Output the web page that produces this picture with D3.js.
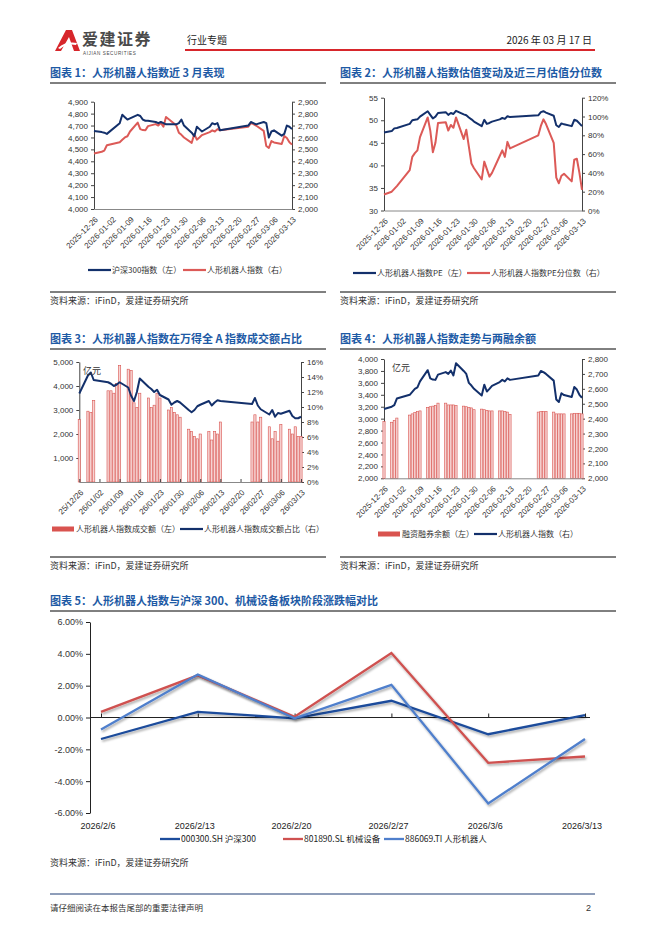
<!DOCTYPE html>
<html>
<head>
<meta charset="utf-8">
<script src="https://cdn.jsdelivr.net/npm/d3@7"></script>
<style>
body { margin: 0; background: #fff; }
svg { display: block; font-family: "Noto Sans CJK SC", "Noto Sans", sans-serif; }
.ttl { font-size: 11px; font-weight: bold; fill: #1d5aa5; }
.src { font-size: 9px; fill: #333; }
.leg { font-size: 8px; fill: #333; }
.num { font-family: "Liberation Sans", "DejaVu Sans", sans-serif; }
</style>
</head>
<body>
<svg id="page" width="662" height="936"></svg>
<script>
// trading days shown in charts 1-4
const dates = [
  "2025-12-26","2025-12-29","2025-12-30","2025-12-31",
  "2026-01-05","2026-01-06","2026-01-07","2026-01-08","2026-01-09",
  "2026-01-12","2026-01-13","2026-01-14","2026-01-15","2026-01-16",
  "2026-01-19","2026-01-20","2026-01-21","2026-01-22","2026-01-23",
  "2026-01-26","2026-01-27","2026-01-28","2026-01-29","2026-01-30",
  "2026-02-02","2026-02-03","2026-02-04","2026-02-05","2026-02-06",
  "2026-02-09","2026-02-10","2026-02-11","2026-02-12","2026-02-13",
  "2026-02-24","2026-02-25","2026-02-26","2026-02-27",
  "2026-03-02","2026-03-03","2026-03-04","2026-03-05","2026-03-06",
  "2026-03-09","2026-03-10","2026-03-11","2026-03-12","2026-03-13"
];
const weekTicks = ["2025-12-26","2026-01-02","2026-01-09","2026-01-16","2026-01-23","2026-01-30",
  "2026-02-06","2026-02-13","2026-02-20","2026-02-27","2026-03-06","2026-03-13"];

// 沪深300指数
const hs300 = [4655,4645,4640,4630, 4720,4790,4770,4750,4760, 4790,4780,4750,4740,4740,
  4730,4720,4730,4720,4710, 4710,4710,4720,4750,4700, 4640,4610,4690,4670,4650,
  4690,4720,4710,4720,4660, 4700,4730,4720,4710, 4730,4720,4600,4650,4660,
  4615,4630,4700,4690,4670];
// 人形机器人指数
const robotIdx = [2465,2480,2490,2535, 2560,2580,2600,2610,2650, 2725,2670,2662,2660,2695,
  2712,2700,2722,2690,2772, 2720,2700,2640,2622,2600, 2555,2628,2582,2600,2620,
  2645,2660,2650,2670,2660, 2690,2720,2712,2700, 2655,2528,2512,2570,2558,
  2545,2612,2595,2560,2540];
// 人形机器人指数PE
const robotPE = [47.3,47.6,48.2,48.3, 49.2,50.0,50.1,50.2,50.8, 52.0,51.2,50.4,50.8,51.6,
  51.8,51.2,51.6,51.4,52.1, 51.3,51.1,50.6,50.2,49.7, 48.7,50.1,49.2,49.4,49.7,
  50.2,50.5,50.3,50.9,50.7, 51.1,51.8,52.0,51.7, 51.0,48.9,48.5,49.3,49.1,
  48.7,50.1,49.9,49.3,48.7];
// PE分位数 (%)
const pePct = [17,20,23,26, 43,57,61,64,78, 99,85,62,72,93,
  94,85,91,88,99, 76,86,68,50,45, 33,52,44,36,40,
  58,64,57,73,66, 80,90,97,92, 72,35,29,37,39,
  31,54,55,40,22];
// 成交额 (亿元)
const turnover = [2600,2950,2900,3400, 3800,3800,3700,4100,4850, 4700,4650,3300,3100,3700,
  3500,3100,3200,3700,3500, 3000,3100,2900,2800,2700, 2200,2100,1900,1800,2000,
  2100,1750,2100,2000,2500, 2500,2800,2500,2700, 2300,1800,2100,1700,2400,
  2200,2000,2300,1900,1900];
// 成交额占比 (%)
const turnoverShare = [11.8,14.2,14.6,13.6, 13.3,13.1,12.8,13.0,13.3, 12.6,11.5,10.8,12.0,13.8,
  12.7,12.4,12.0,12.3,11.6, 11.0,10.3,10.6,10.8,10.6, 9.6,9.3,9.6,10.1,10.3,
  10.8,10.2,10.6,10.9,10.8, 10.4,11.2,10.2,9.7, 9.0,9.6,8.7,9.2,9.1,
  9.5,8.8,8.5,8.5,8.7];
// 融资融券余额 (亿元)
const marginBal = [2950,2940,2970,3010, 3060,3080,3100,3120,3130, 3190,3200,3210,3220,3260,
  3260,3230,3230,3230,3220, 3210,3200,3190,3180,3150, 3160,3150,3140,3130,3130,
  3130,3130,3120,3110,3070, 3110,3120,3120,3120, 3110,3080,3080,3080,3080,
  3080,3090,3090,3090,3080];

// 图表5 周度涨跌幅 (%)
const weekLabels = ["2026/2/6","2026/2/13","2026/2/20","2026/2/27","2026/3/6","2026/3/13"];
const wkHs300 = [-1.35, 0.35, -0.05, 1.05, -1.05, 0.15];
const wkMach = [0.35, 2.65, 0.05, 4.05, -2.85, -2.45];
const wkRobot = [-0.75, 2.70, -0.05, 2.05, -5.40, -1.35];

const NAVY = "#13306b", RED = "#dc5a57";
const svg = d3.select("#page");
const parse = d3.timeParse("%Y-%m-%d");
const dts = dates.map(parse);
const wks = weekTicks.map(parse);

// ---------- header ----------
svg.append("path").attr("d", "M55,51 L66,30 L72,30 L80,51 L74,51 L69,37 L61,51 Z").attr("fill", "#d7262b");
svg.append("path").attr("d", "M58,48 Q66,41 77,43 L76,45 Q67,43 60,49 Z").attr("fill", "#fff");
svg.append("text").attr("x", 82).attr("y", 45).attr("font-size", 16).attr("font-weight", "bold")
  .attr("letter-spacing", 1.5).attr("fill", "#4a4a4a").text("爱建证券");
svg.append("text").attr("x", 83).attr("y", 54.5).attr("font-size", 4.6).attr("fill", "#4a4a4a")
  .attr("letter-spacing", 0.6).attr("class", "num").text("AIJIAN SECURITIES");
svg.append("text").attr("x", 187).attr("y", 44).attr("font-size", 10).attr("fill", "#222").text("行业专题");
svg.append("text").attr("x", 592).attr("y", 44).attr("font-size", 10).attr("fill", "#222")
  .attr("text-anchor", "end").text("2026 年 03 月 17 日");
svg.append("line").attr("x1", 185).attr("x2", 595).attr("y1", 50).attr("y2", 50)
  .attr("stroke", "#d7262b").attr("stroke-width", 2);

// ---------- helpers ----------
function title(x, y, x2, text) {
  svg.append("text").attr("class", "ttl").attr("x", x).attr("y", y).text(text);
  svg.append("line").attr("x1", x).attr("x2", x2).attr("y1", y + 6).attr("y2", y + 6)
    .attr("stroke", "#000").attr("stroke-width", 1);
}
function source(x, y, x2, withLine) {
  if (withLine) svg.append("line").attr("x1", x).attr("x2", x2).attr("y1", y - 12).attr("y2", y - 12)
    .attr("stroke", "#000").attr("stroke-width", 1);
  svg.append("text").attr("class", "src").attr("x", x).attr("y", y).text("资料来源：iFinD，爱建证券研究所");
}
function styleAxis(g, fs) {
  g.select(".domain").attr("stroke", "#444");
  g.selectAll(".tick line").attr("stroke", "#444");
  g.selectAll(".tick text").attr("fill", "#333").attr("font-size", fs || 8).attr("class", "num");
}
function yAxes(p, yL, yR, lTicks, rTicks, lFmt, rFmt) {
  const gl = svg.append("g").attr("transform", `translate(${p.x0},0)`)
    .call(d3.axisLeft(yL).tickValues(lTicks).tickFormat(lFmt).tickSize(3).tickSizeOuter(0));
  styleAxis(gl);
  const gr = svg.append("g").attr("transform", `translate(${p.x1},0)`)
    .call(d3.axisRight(yR).tickValues(rTicks).tickFormat(rFmt).tickSize(3).tickSizeOuter(0));
  styleAxis(gr);
}
function dateAxis(x, p, fmt, tick) {
  const g = svg.append("g").attr("transform", `translate(0,${p.y1})`)
    .call(d3.axisBottom(x).tickValues(wks).tickFormat(d3.timeFormat(fmt)).tickSize(tick).tickSizeOuter(0));
  styleAxis(g);
  g.select(".domain").attr("stroke", "#888");
  g.selectAll(".tick text").attr("y", 0).attr("dy", 0).attr("text-anchor", "end")
    .attr("transform", "translate(4,11) rotate(-45)");
}
function legLine(x, y, color, text) {
  svg.append("line").attr("x1", x).attr("x2", x + 23).attr("y1", y).attr("y2", y)
    .attr("stroke", color).attr("stroke-width", 2.2);
  svg.append("text").attr("class", "leg").attr("x", x + 24).attr("y", y + 3).text(text);
}
function legRect(x, y, color, text) {
  svg.append("rect").attr("x", x).attr("y", y - 2.5).attr("width", 22).attr("height", 5).attr("fill", color);
  svg.append("text").attr("class", "leg").attr("x", x + 24).attr("y", y + 3).text(text);
}
function drawLine(x, y, vals, color, w) {
  svg.append("path").datum(vals)
    .attr("d", d3.line().x((d, i) => x(dts[i])).y(d => y(d)))
    .attr("fill", "none").attr("stroke", color).attr("stroke-width", w || 2).attr("stroke-linejoin", "round");
}
function drawBars(x, y, vals, p) {
  svg.append("g").selectAll("rect").data(vals).join("rect")
    .attr("x", (d, i) => x(dts[i]) - 1.1).attr("width", 2.2)
    .attr("y", d => y(d)).attr("height", d => p.y1 - y(d))
    .attr("fill", "#f6d4d3").attr("stroke", "#d9534f").attr("stroke-width", 0.6);
}
const fmtC = d3.format(",");

// ---------- 图表1 ----------
title(50, 77, 326, "图表 1：人形机器人指数近 3 月表现");
{
  const p = { x0: 94, x1: 292, y0: 101.7, y1: 209 };
  const x = d3.scaleTime().domain([dts[0], dts[dts.length - 1]]).range([p.x0, p.x1]);
  const yL = d3.scaleLinear().domain([4000, 4900]).range([p.y1, p.y0]);
  const yR = d3.scaleLinear().domain([2000, 2900]).range([p.y1, p.y0]);
  yAxes(p, yL, yR, d3.range(4000, 4901, 100), d3.range(2000, 2901, 100), fmtC, fmtC);
  dateAxis(x, p, "%Y-%m-%d", 0);
  drawLine(x, yR, robotIdx, RED);
  drawLine(x, yL, hs300, NAVY);
  legLine(88, 270, NAVY, "沪深300指数（左）");
  legLine(183, 270, RED, "人形机器人指数（右）");
}
source(50, 304, 326, true);

// ---------- 图表2 ----------
title(340, 77, 616, "图表 2：人形机器人指数估值变动及近三月估值分位数");
{
  const p = { x0: 384, x1: 582, y0: 97.7, y1: 210.5 };
  const x = d3.scaleTime().domain([dts[0], dts[dts.length - 1]]).range([p.x0, p.x1]);
  const yL = d3.scaleLinear().domain([30, 55]).range([p.y1, p.y0]);
  const yR = d3.scaleLinear().domain([0, 120]).range([p.y1, p.y0]);
  yAxes(p, yL, yR, d3.range(30, 56, 5), d3.range(0, 121, 20), d3.format("d"), d => d + "%");
  dateAxis(x, p, "%Y-%m-%d", 0);
  drawLine(x, yL, robotPE, NAVY);
  drawLine(x, yR, pePct, RED);
  legLine(353, 273, NAVY, "人形机器人指数PE（左）");
  legLine(467, 273, RED, "人形机器人指数PE分位数（右）");
}
source(340, 304, 616, true);

// ---------- 图表3 ----------
title(50, 343, 326, "图表 3：人形机器人指数在万得全 A 指数成交额占比");
{
  const p = { x0: 79.3, x1: 301, y0: 362, y1: 482 };
  const x = d3.scaleTime().domain([dts[0], dts[dts.length - 1]]).range([p.x0, p.x1]);
  const yL = d3.scaleLinear().domain([0, 5000]).range([p.y1, p.y0]);
  const yR = d3.scaleLinear().domain([0, 16]).range([p.y1, p.y0]);
  yAxes(p, yL, yR, d3.range(1000, 5001, 1000), d3.range(0, 17, 2), fmtC, d => d + "%");
  drawBars(x, yL, turnover, p);
  dateAxis(x, p, "%y/%m/%d", -3);
  drawLine(x, yR, turnoverShare, NAVY);
  svg.append("text").attr("x", 83).attr("y", 374).attr("font-size", 9).attr("fill", "#333").text("亿元");
  legRect(52, 529, "#d9534f", "人形机器人指数成交额（左）");
  legLine(180, 529, NAVY, "人形机器人指数成交额占比（右）");
}
source(50, 569, 326, true);

// ---------- 图表4 ----------
title(340, 343, 616, "图表 4：人形机器人指数走势与两融余额");
{
  const p = { x0: 384, x1: 582, y0: 359, y1: 478.3 };
  const x = d3.scaleTime().domain([dts[0], dts[dts.length - 1]]).range([p.x0, p.x1]);
  const yL = d3.scaleLinear().domain([2000, 4000]).range([p.y1, p.y0]);
  const yR = d3.scaleLinear().domain([2000, 2800]).range([p.y1, p.y0]);
  yAxes(p, yL, yR, d3.range(2000, 4001, 200), d3.range(2000, 2801, 100), fmtC, fmtC);
  drawBars(x, yL, marginBal, p);
  dateAxis(x, p, "%Y-%m-%d", 0);
  drawLine(x, yR, robotIdx, NAVY);
  svg.append("text").attr("x", 392).attr("y", 371).attr("font-size", 9).attr("fill", "#333").text("亿元");
  legRect(378, 534, "#d9534f", "融资融券余额（左）");
  legLine(474, 534, NAVY, "人形机器人指数（右）");
}
source(340, 569, 616, true);

// ---------- 图表5 ----------
title(50, 605, 616, "图表 5：人形机器人指数与沪深 300、机械设备板块阶段涨跌幅对比");
{
  const x = d3.scalePoint().domain(weekLabels).range([101, 585]);
  const y = d3.scaleLinear().domain([-6, 6]).range([813, 622]);
  const defs = svg.append("defs");
  defs.append("filter").attr("id", "shd").attr("x", "-10%").attr("y", "-10%").attr("width", "120%").attr("height", "130%")
    .append("feDropShadow").attr("dx", 1.2).attr("dy", 1.8).attr("stdDeviation", 1)
    .attr("flood-color", "#000").attr("flood-opacity", 0.35);
  const gy = svg.append("g").attr("transform", "translate(90,0)")
    .call(d3.axisLeft(y).tickValues(d3.range(-6, 7, 2)).tickFormat(d => d.toFixed(2) + "%").tickSize(4).tickSizeOuter(0));
  styleAxis(gy, 9);
  gy.select(".domain").attr("stroke", "#222");
  gy.selectAll(".tick line").attr("stroke", "#222");
  const gx = svg.append("g").attr("transform", `translate(0,${y(0)})`)
    .call(d3.axisTop(x).tickSize(4).tickSizeOuter(0).tickFormat(""));
  gx.select(".domain").attr("d", `M90,0H590`).attr("stroke", "#222");
  gx.selectAll(".tick line").attr("stroke", "#222");
  svg.append("g").selectAll("text").data(weekLabels).join("text")
    .attr("class", "num").attr("x", d => x(d) - 3).attr("y", 829).attr("text-anchor", "middle")
    .attr("font-size", 9).attr("fill", "#222").text(d => d);
  const series = [
    { vals: wkHs300, color: "#1c4c9b", name: "000300.SH 沪深300" },
    { vals: wkMach, color: "#cf5150", name: "801890.SL 机械设备" },
    { vals: wkRobot, color: "#4f7fcc", name: "886069.TI 人形机器人" }
  ];
  series.forEach(s => {
    svg.append("path").datum(s.vals)
      .attr("d", d3.line().x((d, i) => x(weekLabels[i])).y(d => y(d)))
      .attr("fill", "none").attr("stroke", s.color).attr("stroke-width", 2.3)
      .attr("filter", "url(#shd)");
  });
  const lx = [160, 283, 384];
  series.forEach((s, i) => {
    svg.append("line").attr("x1", lx[i]).attr("x2", lx[i] + 20).attr("y1", 839).attr("y2", 839)
      .attr("stroke", s.color).attr("stroke-width", 2.3);
    svg.append("text").attr("x", lx[i] + 21).attr("y", 842).attr("font-size", 8.5).attr("fill", "#222").text(s.name);
  });
}
source(50, 866, 616, false);

// ---------- footer ----------
svg.append("line").attr("x1", 50).attr("x2", 595).attr("y1", 894).attr("y2", 894)
  .attr("stroke", "#1f3c74").attr("stroke-width", 1);
svg.append("text").attr("x", 50).attr("y", 911).attr("font-size", 8.5).attr("fill", "#333")
  .text("请仔细阅读在本报告尾部的重要法律声明");
svg.append("text").attr("x", 591).attr("y", 911).attr("font-size", 9).attr("fill", "#333")
  .attr("text-anchor", "end").attr("class", "num").text("2");
</script>
</body>
</html>
